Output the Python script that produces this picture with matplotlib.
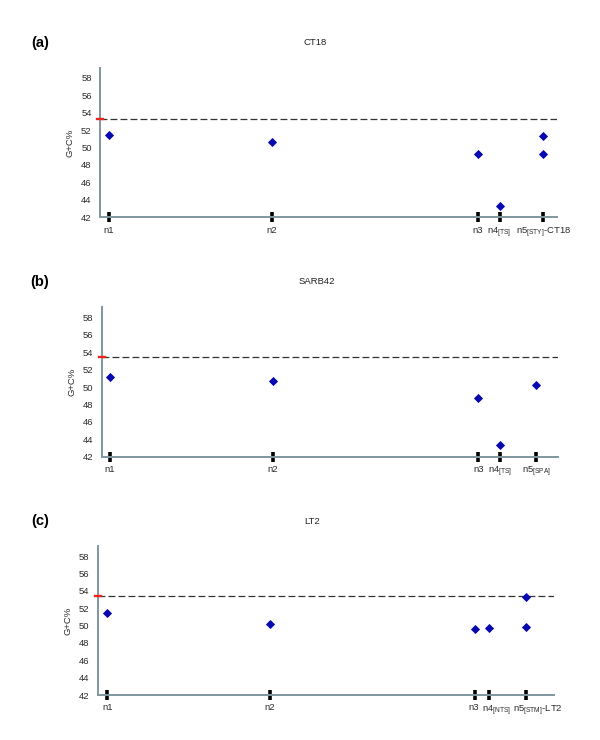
import matplotlib
matplotlib.use("Agg")
import matplotlib.pyplot as plt
import matplotlib.transforms as mtransforms

plt.rcParams['font.family'] = ['Liberation Sans', 'DejaVu Sans']
plt.rcParams['mathtext.fontset'] = 'custom'
plt.rcParams['mathtext.rm'] = 'Liberation Sans'

# ── data (G+C% per fragment; x = relative position along genome, 0-100) ──────
TITLES = ["CT18", "SARB42", "LT2"]
PANEL_TAGS = ["(a)", "(b)", "(c)"]
GENOME_GC = [53.22, 53.4, 53.45]

TICK_POS_A = [2.0, 37.6, 82.7, 87.5, 97.1]
TICK_LAB_A = ["n1", "n2", "n3", r"n4$_{\rm [TS]}$", r"n5$_{\rm [STY]}$-CT18"]
X_A = [2.0, 37.6, 82.7, 87.5, 97.1, 97.1]
GC_A = [51.4, 50.6, 49.2, 43.3, 51.35, 49.2]

TICK_POS_B = [1.7, 37.4, 82.5, 87.2, 95.2]
TICK_LAB_B = ["n1", "n2", "n3", r"n4$_{\rm [TS]}$", r"n5$_{\rm [SPA]}$"]
X_B = [1.7, 37.4, 82.5, 87.2, 95.2]
GC_B = [51.1, 50.7, 48.75, 43.4, 50.25]

TICK_POS_C = [2.1, 37.7, 82.7, 85.8, 93.9]
TICK_LAB_C = ["n1", "n2", "n3", r"n4$_{\rm [NTS]}$", r"n5$_{\rm [STM]}$-LT2"]
X_C = [2.1, 37.7, 82.7, 85.8, 93.9, 93.9]
GC_C = [51.5, 50.15, 49.6, 49.75, 53.3, 49.8]

Y_TICKS = [42, 44, 46, 48, 50, 52, 54, 56, 58]

AXIS_COL = "#7f97a0"
MARK_COL = "#0808b0"
TEXT_COL = "#2a2a2a"

# ── layout ───────────────────────────────────────────────────────────────────
BOXES = [
    [0.1667, 0.7064, 0.761, 0.2013],
    [0.1700, 0.3828, 0.7605, 0.2019],
    [0.1632, 0.0607, 0.7603, 0.2015],
]
YTOP = [59.08, 59.15, 59.16]
HEAD_Y = [1 - 42.7 / 740, 1 - 281.7 / 740, 1 - 521 / 740]
TITLE_X = [314.8 / 600, 316.5 / 600, 312 / 600]
# horizontal nudge (pixels) of crowded tick labels in panel (c)
LABEL_SHIFT = [[0, 0, 0, 0, 0], [0, 0, 0, 0, 0], [0, 0, -2, 7, 12]]

fig = plt.figure(figsize=(6, 7.4), dpi=100)

panels = [
    (TICK_POS_A, TICK_LAB_A, X_A, GC_A),
    (TICK_POS_B, TICK_LAB_B, X_B, GC_B),
    (TICK_POS_C, TICK_LAB_C, X_C, GC_C),
]

for i, (tpos, tlab, xs, gcs) in enumerate(panels):
    ax = fig.add_axes(BOXES[i])
    ax.set_xlim(0, 100)
    ax.set_ylim(42, YTOP[i])

    ax.axhline(GENOME_GC[i], xmin=0, xmax=1.0, color="#333333",
               lw=0.9, ls=(0, (5.5, 2.5)))
    # red genome-average mark on the y axis
    trans = mtransforms.blended_transform_factory(ax.transAxes, ax.transData)
    ax.plot([-0.006, 0.007], [GENOME_GC[i]] * 2, color="#e8261e", lw=1.7,
            transform=trans, clip_on=False, zorder=4)

    ax.plot(xs, gcs, ls="none", marker="D", ms=4.0, mew=0.6,
            color=MARK_COL, mec=MARK_COL, zorder=5)

    for side in ["top", "right"]:
        ax.spines[side].set_visible(False)
    for side in ["left", "bottom"]:
        ax.spines[side].set_color(AXIS_COL)
        ax.spines[side].set_linewidth(1.4)

    ax.set_yticks(Y_TICKS)
    ax.set_yticklabels([str(v) for v in Y_TICKS], fontsize=6.8, color=TEXT_COL)
    ax.tick_params(axis="y", length=0, pad=6)

    ax.set_xticks(tpos)
    ax.set_xticklabels(tlab, fontsize=6.8, color=TEXT_COL)
    ax.tick_params(axis="x", length=7, width=2.6, color="black",
                   direction="inout", pad=2.5)
    for lab, dx in zip(ax.get_xticklabels(), LABEL_SHIFT[i]):
        if dx:
            lab.set_transform(lab.get_transform() +
                              mtransforms.ScaledTranslation(dx / 100, 0, fig.dpi_scale_trans))

    ax.set_ylabel("G+C%", fontsize=6.8, color=TEXT_COL, labelpad=5)

    fig.text(TITLE_X[i], HEAD_Y[i], TITLES[i], ha="center", va="center",
             fontsize=6.8, color="#222222")
    fig.text(40 / 600, HEAD_Y[i], PANEL_TAGS[i], ha="center", va="center",
             fontsize=10.5, fontweight="bold")

fig.savefig("out.png", dpi=100)
